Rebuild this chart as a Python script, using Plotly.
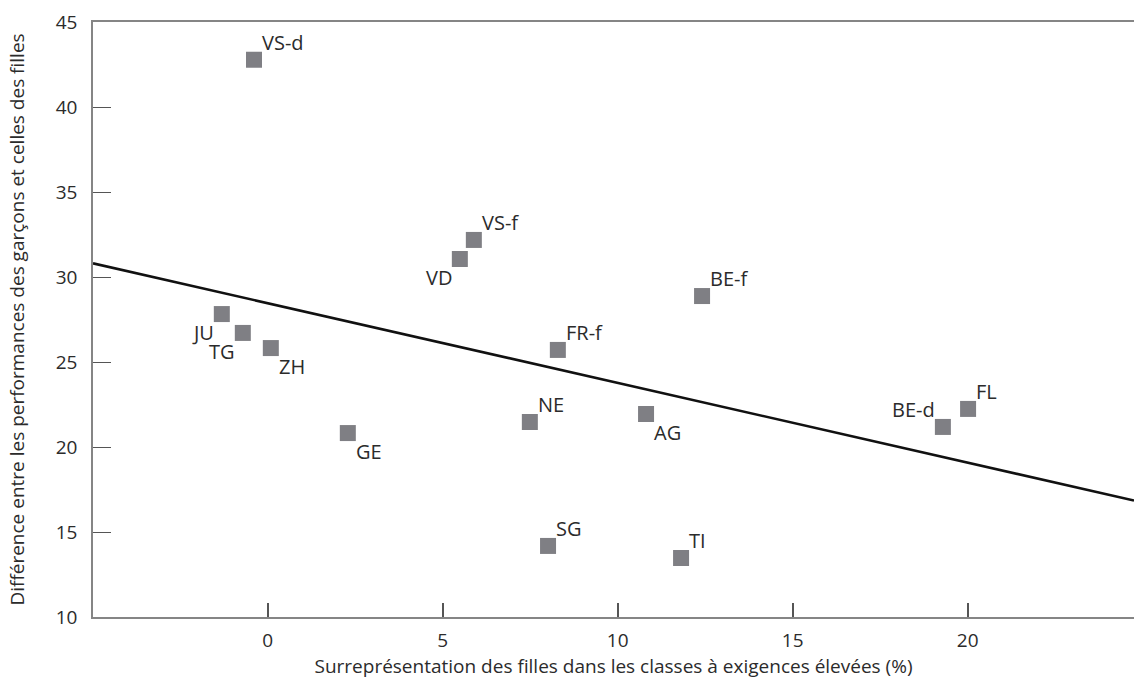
import plotly.graph_objects as go
import numpy as np

# Data
cantons = ["VS-d", "JU", "TG", "ZH", "GE", "VS-f", "VD", "FR-f", "BE-f",
           "NE", "AG", "SG", "TI", "BE-d", "FL"]
surrep_filles = [-0.39, -1.31, -0.71, 0.09, 2.29, 5.89, 5.49, 8.29, 12.41,
                 7.49, 10.81, 8.01, 11.81, 19.29, 20.01]
diff_perf = [42.78, 27.82, 26.71, 25.82, 20.82, 32.18, 31.06, 25.71, 28.88,
             21.47, 21.94, 14.18, 13.47, 21.18, 22.24]
label_pos = ["top right", "bottom left", "bottom left", "bottom right", "bottom right",
             "top right", "bottom left", "top right", "top right",
             "top right", "bottom right", "top right", "top right", "top left", "top right"]

# Regression line: y = intercept + slope * x
trend_intercept = 28.46
trend_slope = -0.469

x_ticks = [0, 5, 10, 15, 20]
y_ticks = [10, 15, 20, 25, 30, 35, 40, 45]
x_range = [-4.99, 24.75]
y_range = [10, 45]

font_family = "Open Sans, Noto Sans, sans-serif"
text_col = "#2b2b2b"
axis_col = "#858585"

trend_x = np.array(x_range)
trend_y = trend_intercept + trend_slope * trend_x

fig = go.Figure()
fig.add_trace(go.Scatter(
    x=trend_x, y=trend_y, mode="lines",
    line=dict(color="#111111", width=2.6),
    hoverinfo="skip", showlegend=False, cliponaxis=False,
))
fig.add_trace(go.Scatter(
    x=surrep_filles, y=diff_perf, mode="markers",
    marker=dict(symbol="square", size=16, color="#7f7f84", line=dict(width=0)),
    text=cantons, showlegend=False, cliponaxis=False,
))

# point labels placed next to their markers
for name, xv, yv, pos in zip(cantons, surrep_filles, diff_perf, label_pos):
    vert, horiz = pos.split()
    fig.add_annotation(
        x=xv, y=yv, text=name, showarrow=False,
        xanchor="left" if horiz == "right" else "right",
        yanchor="bottom" if vert == "top" else "top",
        xshift=6 if horiz == "right" else -6,
        yshift=2 if vert == "top" else -3,
        font=dict(family=font_family, size=20, color=text_col),
    )

fig.update_layout(
    width=1134, height=683,
    margin=dict(l=93, r=0, t=22, b=66),
    paper_bgcolor="white", plot_bgcolor="white",
    font=dict(family=font_family, color=text_col, size=19),
    xaxis=dict(
        range=x_range, tickvals=x_ticks, ticktext=[str(v) for v in x_ticks],
        showgrid=False, zeroline=False,
        showline=True, linecolor=axis_col, linewidth=1.5, mirror=True,
        ticks="inside", ticklen=14, tickcolor="#555555", tickwidth=1.5,
        tickfont=dict(size=19, color=text_col),
        ticklabelstandoff=5,
        title=dict(text="Surreprésentation des filles dans les classes à exigences élevées (%)",
                   font=dict(size=19, color=text_col), standoff=6),
    ),
    yaxis=dict(
        range=y_range, tickvals=y_ticks, ticktext=[str(v) for v in y_ticks],
        showgrid=False, zeroline=False,
        showline=True, linecolor=axis_col, linewidth=1.5, mirror=False,
        ticks="inside", ticklen=18, tickcolor="#555555", tickwidth=1.2,
        tickfont=dict(size=19, color=text_col),
        ticklabelstandoff=10,
        title=dict(text="Différence entre les performances des garçons et celles des filles",
                   font=dict(size=19, color=text_col), standoff=26),
    ),
)

fig.write_html("out.html")
